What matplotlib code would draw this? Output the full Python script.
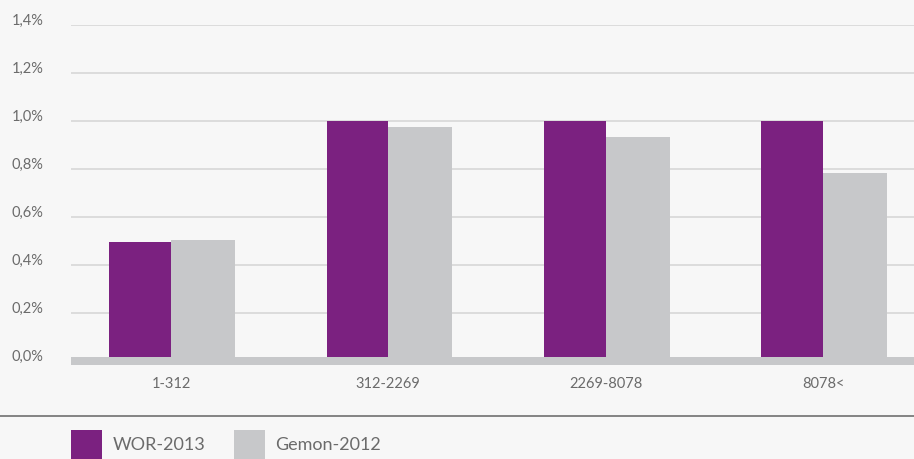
import matplotlib.pyplot as plt
from matplotlib.patches import Rectangle
from matplotlib.ticker import FuncFormatter
import matplotlib.transforms as mtransforms
import numpy as np

categories = ['1-312', '312-2269', '2269-8078', '8078<']
wor_2013 = [0.494, 1.0, 1.0, 1.0]
gemon_2012 = [0.503, 0.975, 0.932, 0.782]
series_names = ['WOR-2013', 'Gemon-2012']
y_ticks = [0.0, 0.2, 0.4, 0.6, 0.8, 1.0, 1.2, 1.4]

purple = '#7b2180'
grey = '#c7c8ca'
bg = '#f7f7f7'
text_col = '#6b6b6b'

plt.rcParams['font.family'] = ['Lato', 'DejaVu Sans']

W, H = 914, 459
fig = plt.figure(figsize=(W / 100, H / 100), dpi=100, facecolor=bg)
ax = fig.add_axes([71 / W, 1 - 365 / H, 1 - 71 / W, (365 - 25) / H])
ax.set_facecolor(bg)

x = np.arange(len(categories))
bw = 0.283
gw = 0.295
ax.bar(x - bw / 2, wor_2013, width=bw, color=purple, zorder=2)
ax.bar(x + gw / 2, gemon_2012, width=gw, color=grey, zorder=2)

# thick baseline band
ax.axhspan(-0.0167, 0.0167, color=grey, zorder=3, lw=0)

ax.set_xlim(-0.460, 3.419)
ax.set_ylim(-0.0167, 1.4)
ax.set_yticks(y_ticks)
ax.yaxis.set_major_formatter(FuncFormatter(lambda v, p: f'{v:.1f}%'.replace('.', ',')))
ax.grid(axis='y', color='#dcdcdc', lw=1.4, zorder=1)
ax.set_xticks(x)
ax.set_xticklabels(categories)
for s in ax.spines.values():
    s.set_visible(False)
ax.tick_params(length=0, colors=text_col, labelsize=10.5)
ax.tick_params(axis='y', pad=20)
ax.tick_params(axis='x', pad=9)
offset = mtransforms.ScaledTranslation(0, 6 / 100, fig.dpi_scale_trans)
for lab in ax.get_yticklabels():
    lab.set_transform(lab.get_transform() + offset)
    lab.set_fontsize(10.5)

# separator line
fig.add_artist(plt.Line2D([0, 1], [1 - 416 / H, 1 - 416 / H], transform=fig.transFigure,
                          color='#707070', lw=1.2))

# legend
for name, col, x0, tx in [(series_names[0], purple, 71, 113), (series_names[1], grey, 234, 275)]:
    fig.add_artist(Rectangle((x0 / W, 1 - 462 / H), 31 / W, 32 / H, transform=fig.transFigure,
                             color=col, lw=0))
    fig.text(tx / W, 1 - 445 / H, name, color=text_col, fontsize=13, va='center', ha='left')

fig.savefig('out.png', dpi=100, facecolor=bg)
